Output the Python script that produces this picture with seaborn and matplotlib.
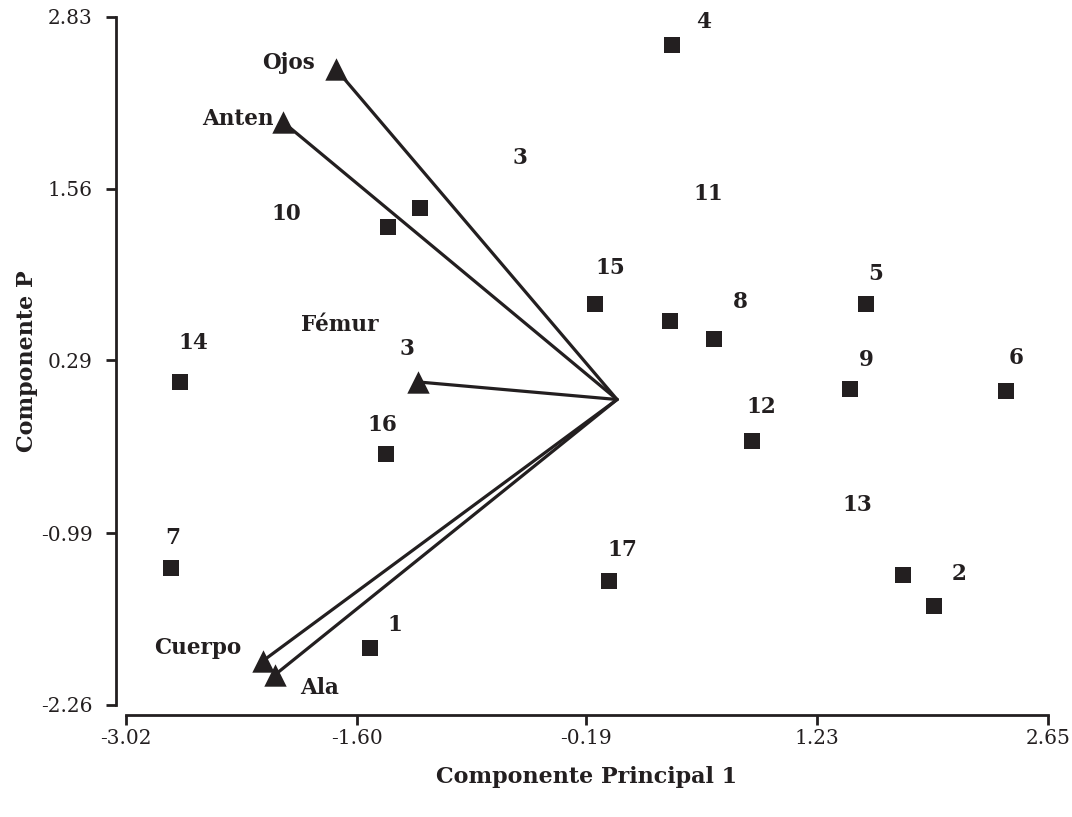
import matplotlib
matplotlib.use("Agg")
import matplotlib.pyplot as plt
import numpy as np
import seaborn as sns
import pandas as pd

# puntos (individuos)
obs_x = [0.338, -1.212, -1.409, -0.136, 0.326, 0.596, 1.531, -2.688, 1.433,
         2.392, 0.830, -1.421, -2.743, -0.050, 1.759, 1.949, -1.519]
obs_y = [2.623, 1.417, 1.277, 0.707, 0.581, 0.448, 0.707, 0.130, 0.079,
         0.064, -0.306, -0.402, -1.245, -1.342, -1.297, -1.527, -1.837]

# variables (vectores desde el origen)
var_names = ['Ojos', 'Anten', 'Fémur', 'Cuerpo', 'Ala']
var_x = [-1.729, -2.054, -1.224, -2.177, -2.104]
var_y = [2.445, 2.053, 0.130, -1.933, -2.037]

# etiquetas tal como aparecen en el grafico
lab_text = ['4', '3', '11', '10', '15', '8', '5', 'Fémur', '3', '14', '9', '6',
            '12', '16', '13', '7', '17', '2', '1', 'Ojos', 'Anten', 'Cuerpo', 'Ala']
lab_x = [0.535, -0.597, 0.559, -2.036, -0.043, 0.756, 1.593, -1.704, -1.292,
         -2.608, 1.531, 2.454, 0.885, -1.446, 1.476, -2.731, 0.030, 2.103,
         -1.366, -2.018, -2.331, -2.577, -1.827]
lab_y = [2.793, 1.787, 1.521, 1.373, 0.973, 0.722, 0.929, 0.552, 0.374,
         0.419, 0.293, 0.308, -0.055, -0.188, -0.779, -1.024, -1.112, -1.290,
         -1.667, 2.490, 2.076, -1.837, -2.133]

ticks_x = [-3.02, -1.60, -0.19, 1.23, 2.65]
ticks_y = [-2.26, -0.99, 0.29, 1.56, 2.83]

sns.set_style("ticks")
plt.rcParams['font.family'] = ['DejaVu Serif']
ink = '#231f20'

fig = plt.figure(figsize=(10.72, 8.17), dpi=100)
ax = fig.add_axes([0.1175, 0.1371, 0.8601, 0.8421])

for vx, vy in zip(var_x, var_y):
    ax.plot([0, vx], [0, vy], color=ink, lw=2.3, zorder=2)

obs = pd.DataFrame({'x': obs_x, 'y': obs_y})
var = pd.DataFrame({'x': var_x, 'y': var_y, 'name': var_names})
sns.scatterplot(data=obs, x='x', y='y', marker='s', s=140, color=ink,
                edgecolor=ink, linewidth=0, ax=ax, zorder=3)
sns.scatterplot(data=var, x='x', y='y', marker='^', s=260, color=ink,
                edgecolor=ink, linewidth=0, ax=ax, zorder=3)

for t, x, y in zip(lab_text, lab_x, lab_y):
    ax.text(x, y, t, ha='center', va='center', fontsize=15.5,
            fontweight='bold', color=ink)

ax.set_xlim(-3.02, 2.65)
ax.set_ylim(-2.26, 2.83)
ax.set_xticks(ticks_x)
ax.set_yticks(ticks_y)
ax.set_xticklabels(['%.2f' % v for v in ticks_x])
ax.set_yticklabels(['%.2f' % v for v in ticks_y])
ax.tick_params(labelsize=14.5, colors=ink, width=2, length=7, direction='out')
ax.tick_params(axis='y', pad=10)
sns.despine(ax=ax, offset=7)
for s in ['left', 'bottom']:
    ax.spines[s].set_linewidth(2)
    ax.spines[s].set_color(ink)

ax.set_xlabel('Componente Principal 1', fontsize=16, fontweight='bold',
              color=ink, labelpad=13)
ax.set_ylabel('Componente P', fontsize=16, fontweight='bold', color=ink,
              labelpad=2)

fig.savefig('out.png', dpi=100)
